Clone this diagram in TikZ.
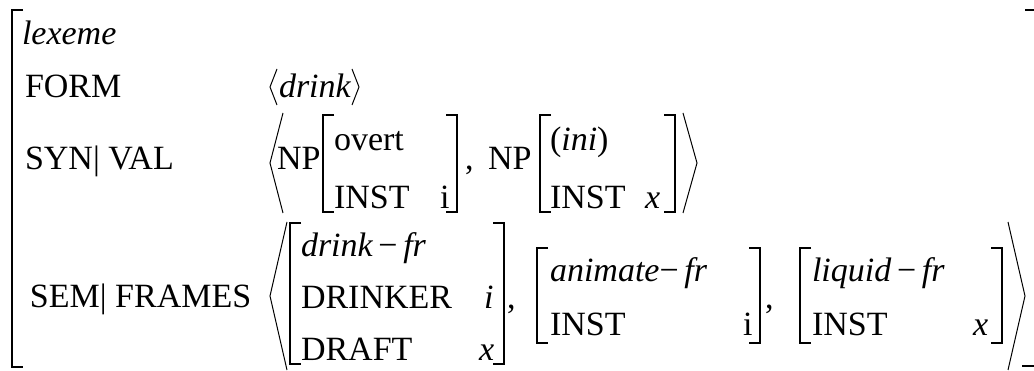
\documentclass[tikz,border=0pt]{standalone}
\usepackage{fontspec}
\setmainfont{Liberation Serif}
% square brackets of an attribute-value matrix: x, top, bottom
\newcommand\avmopen[3]{\draw[brk] (#1+11,#2) -- (#1,#2) -- (#1,#3) -- (#1+11,#3);}
\newcommand\avmclose[3]{\draw[brk] (#1-11,#2) -- (#1,#2) -- (#1,#3) -- (#1-11,#3);}
\begin{document}
\begin{tikzpicture}[x=1pt,y=-1pt,
  txt/.style={anchor=base west,inner sep=0pt,outer sep=0pt,font=\fontsize{34}{40}\selectfont},
  brk/.style={line width=1.2pt},
  ang/.style={line width=1pt,line join=miter}]
\useasboundingbox (0,0) rectangle (1034,371);

% outer matrix
\draw[brk] (23,10) -- (12,10) -- (12,367) -- (23,367);
\draw[brk] (1025,10) -- (1034,10);
\draw[brk] (1022,366) -- (1034,366);

% type and form
\node[txt] (lex) at (22,45) {\itshape lexeme};
\node[txt] (form) at (25,98) {FORM};
\draw[ang] (277,69) -- (270,87) -- (277,105);
\node[txt] (formval) at (279,98) {\itshape drink};
\draw[ang] (352,69) -- (359,87) -- (352,105);

% valence list
\node[txt] (syn) at (25,170) {SYN| VAL};
\draw[ang] (283,113) -- (270,163) -- (283,213);
\node[txt] (np1) at (277,170) {NP};
\avmopen{323}{115}{212}
\node[txt] (overt) at (334,151) {overt};
\node[txt] (inst1) at (334,209) {INST};
\node[txt] (inst1v) at (440,209) {i};
\avmclose{457}{115}{212}
\node[txt] (c1) at (465,170) {,};
\node[txt] (np2) at (488,170) {NP};
\avmopen{540}{115}{212}
\node[txt] (ini) at (550,151) {(\textit{ini})};
\node[txt] (inst2) at (550,209) {INST};
\node[txt] (inst2v) at (645,209) {\itshape x};
\avmclose{675}{115}{212}
\draw[ang] (683,113) -- (697,163) -- (683,213);

% frames list
\node[txt] (sem) at (30,308) {SEM| FRAMES};
\draw[ang] (287,222) -- (270,296) -- (287,370);
\avmopen{290}{223}{364}
\node[txt] (drinkfr) at (301,257) {\itshape drink\,\upshape−\,\itshape fr};
\node[txt] (drinker) at (301,309) {DRINKER};
\node[txt] (drinkerv) at (484,309) {\itshape i};
\node[txt] (draft) at (301,361) {DRAFT};
\node[txt] (draftv) at (479,361) {\itshape x};
\avmclose{504}{223}{364}
\node[txt] (c2) at (507,309) {,};
\avmopen{537}{248}{343}
\node[txt] (animfr) at (550,282) {\itshape animate\upshape−\,\itshape fr};
\node[txt] (inst3) at (550,336) {INST};
\node[txt] (inst3v) at (743,336) {i};
\avmclose{760}{248}{343}
\node[txt] (c3) at (765,309) {,};
\avmopen{800}{248}{343}
\node[txt] (liqfr) at (812,282) {\itshape liquid\,\upshape−\,\itshape fr};
\node[txt] (inst4) at (812,336) {INST};
\node[txt] (inst4v) at (973,336) {\itshape x};
\avmclose{1002}{248}{343}
\draw[ang] (1008,222) -- (1025,296) -- (1008,370);
\end{tikzpicture}
\end{document}
